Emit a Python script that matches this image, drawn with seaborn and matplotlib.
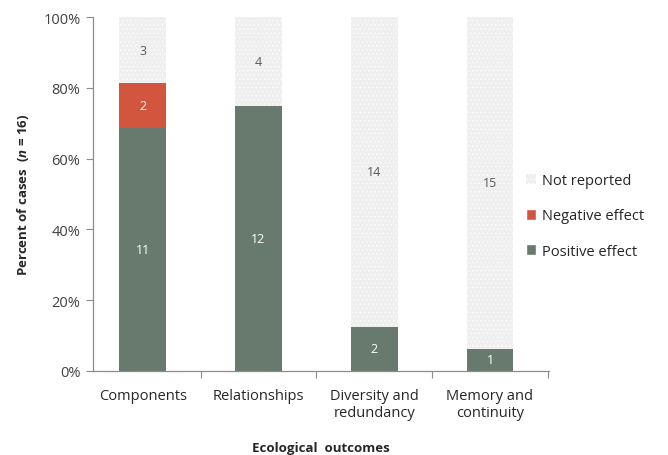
import matplotlib
matplotlib.use("Agg")
import matplotlib.pyplot as plt
import seaborn as sns
import pandas as pd
import numpy as np
from matplotlib.patches import Patch

# Number of cases per ecological outcome (n = 16)
categories = ["Components", "Relationships", "Diversity and\nredundancy", "Memory and\ncontinuity"]
positive = [11, 12, 2, 1]
negative = [2, 0, 0, 0]
not_reported = [3, 4, 14, 15]
n_cases = 16

sns.set_theme(style="white")
plt.rcParams["font.family"] = ["Open Sans", "DejaVu Sans"]
plt.rcParams["mathtext.fontset"] = "custom"
plt.rcParams["mathtext.it"] = "Open Sans:italic:bold"
plt.rcParams["mathtext.rm"] = "Open Sans:bold"
plt.rcParams["hatch.linewidth"] = 0.6

c_pos = "#687a6d"
c_neg = "#d2563d"
c_nr = "#efefef"
grey = "#8c8c8c"
text_c = "#262626"

df = pd.DataFrame({
    "outcome": categories,
    "pos": np.array(positive) / n_cases * 100,
    "neg": np.array(negative) / n_cases * 100,
    "nr": np.array(not_reported) / n_cases * 100,
})
df["pos_neg"] = df["pos"] + df["neg"]
df["total"] = df["pos_neg"] + df["nr"]

fig = plt.figure(figsize=(6.68, 4.56), dpi=100)
ax = fig.add_axes([93 / 668, 1 - 372 / 456, (549 - 93) / 668, (372 - 18) / 456])

w = 0.405
sns.barplot(data=df, x="outcome", y="total", color=c_nr, width=w, ax=ax,
            saturation=1, linewidth=0, hatch="....", edgecolor="#fbfbfb")
sns.barplot(data=df, x="outcome", y="pos_neg", color=c_neg, width=w, ax=ax,
            saturation=1, linewidth=0)
sns.barplot(data=df, x="outcome", y="pos", color=c_pos, width=w, ax=ax,
            saturation=1, linewidth=0)

# Segment counts
for i in range(len(categories)):
    segs = [(0, df["pos"][i], positive[i], "white"),
            (df["pos"][i], df["neg"][i], negative[i], "white"),
            (df["pos_neg"][i], df["nr"][i], not_reported[i], "#595959")]
    for base, h, val, col in segs:
        if val > 0:
            ax.text(i, base + h / 2, str(val), ha="center", va="center",
                    fontsize=9, color=col)

ax.set_xlim(-0.43, 3.51)
ax.set_ylim(0, 100)
ax.set_yticks(np.arange(0, 101, 20))
ax.set_yticklabels([f"{v}%" for v in range(0, 101, 20)], fontsize=10.5, color="#404040")
ax.set_xticks(range(len(categories)))
ax.set_xticklabels(categories, fontsize=10.5, color=text_c, linespacing=1.25)
ax.tick_params(axis="x", length=0, pad=12)
ax.tick_params(axis="y", left=True, length=5, width=0.8, color=grey, pad=4)
# separator ticks between categories
ax.set_xticks(np.arange(0.5, 3.6, 1), minor=True)
ax.tick_params(axis="x", which="minor", bottom=True, length=5, width=0.8, color=grey)

for s in ["top", "right"]:
    ax.spines[s].set_visible(False)
for s in ["left", "bottom"]:
    ax.spines[s].set_color(grey)
    ax.spines[s].set_linewidth(0.9)

ax.set_xlabel("Ecological  outcomes", fontsize=9.5, fontweight="bold", color=text_c, labelpad=15)
ax.set_ylabel(r"Percent of cases  ($n$ = 16)", fontsize=9.5, fontweight="bold", color=text_c, labelpad=9)

handles = [Patch(facecolor=c_nr, edgecolor="#fbfbfb", hatch="....", linewidth=0, label="Not reported"),
           Patch(facecolor=c_neg, label="Negative effect"),
           Patch(facecolor=c_pos, label="Positive effect")]
fig.legend(handles=handles, loc="center left", bbox_to_anchor=(513 / 668, 1 - 217 / 456),
           frameon=False, fontsize=10.5, handlelength=0.7, handleheight=0.7,
           handletextpad=0.4, labelspacing=1.38, labelcolor=text_c)

fig.savefig("out.png", dpi=100)
